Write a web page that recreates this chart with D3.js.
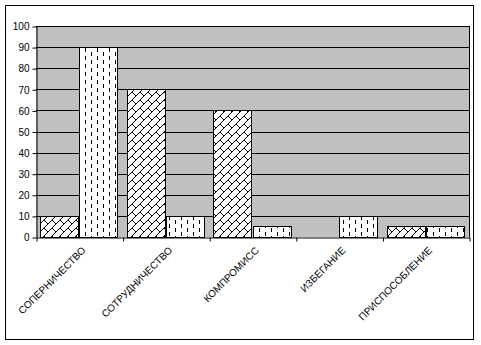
<!DOCTYPE html>
<html>
<head>
<meta charset="utf-8">
<script src="https://cdn.jsdelivr.net/npm/d3@7"></script>
<style>
  body { margin: 0; background: #fff; }
  text { font-family: "Liberation Sans", Arial, sans-serif; }
</style>
</head>
<body>
<svg id="chart"></svg>
<script>
var categories = ['СОПЕРНИЧЕСТВО', 'СОТРУДНИЧЕСТВО', 'КОМПРОМИСС', 'ИЗБЕГАНИЕ', 'ПРИСПОСОБЛЕНИЕ'];
var seriesNames = ['s1', 's2'];
var series1 = [10, 70, 60, 0, 5];
var series2 = [90, 10, 5, 10, 5];
var yTicks = [0, 10, 20, 30, 40, 50, 60, 70, 80, 90, 100];

// pixel bitmaps for the fill patterns
var brickRows = [
  '.......X',
  '......X.',
  '.....X..',
  '....X...',
  '...XX...',
  '..X..X..',
  '.X....X.',
  'X......X'
];
var dashRows = [
  '.X..........',
  '.X..........',
  '.X..........',
  '.X..........',
  '.......X....',
  '.......X....',
  '.......X....',
  '.......X....'
];

var width = 481, height = 345;
var plotL = 36, plotR = 469, plotT = 26, plotB = 237;

var svg = d3.select('#chart')
  .attr('width', width)
  .attr('height', height);

var defs = svg.append('defs');
function addPattern(id, rows){
  var p = defs.append('pattern')
    .attr('id', id)
    .attr('patternUnits', 'userSpaceOnUse')
    .attr('width', rows[0].length)
    .attr('height', rows.length);
  p.append('rect')
    .attr('width', rows[0].length)
    .attr('height', rows.length)
    .attr('fill', '#fff');
  rows.forEach(function(r, j){
    for (var i = 0; i < r.length; i++){
      if (r[i] === 'X') p.append('rect').attr('x', i).attr('y', j).attr('width', 1).attr('height', 1).attr('fill', '#000');
    }
  });
}
addPattern('brick', brickRows);
addPattern('dash', dashRows);

// chart area border
svg.append('rect')
  .attr('x', 5.5).attr('y', 5.5)
  .attr('width', 468).attr('height', 334)
  .attr('fill', '#fff')
  .attr('stroke', '#000');

var x0 = d3.scaleBand()
  .domain(categories)
  .range([plotL, plotR]);
var x1 = d3.scaleBand()
  .domain(seriesNames)
  .range([0, x0.bandwidth()])
  .paddingOuter(0.11);
var y = d3.scaleLinear()
  .domain([0, 100])
  .range([plotB, plotT]);

// plot area
svg.append('rect')
  .attr('x', plotL).attr('y', plotT)
  .attr('width', plotR - plotL).attr('height', plotB - plotT)
  .attr('fill', '#c0c0c0');

svg.append('g')
  .selectAll('line')
  .data(yTicks.filter(d => d > 0))
  .enter()
  .append('line')
    .attr('x1', plotL).attr('x2', plotR)
    .attr('y1', d => Math.round(y(d)) + 0.5)
    .attr('y2', d => Math.round(y(d)) + 0.5)
    .attr('stroke', '#000');

svg.append('line')
  .attr('x1', plotR + 0.5).attr('x2', plotR + 0.5)
  .attr('y1', plotT).attr('y2', plotB)
  .attr('stroke', '#000');

var data = [];
categories.forEach(function(c, i){
  data.push({cat: c, s: 's1', v: series1[i]});
  data.push({cat: c, s: 's2', v: series2[i]});
});

svg.append('g')
  .selectAll('rect')
  .data(data.filter(d => d.v > 0))
  .enter()
  .append('rect')
    .attr('x', d => Math.round(x0(d.cat) + x1(d.s)) + 0.5)
    .attr('y', d => Math.round(y(d.v)) + 0.5)
    .attr('width', x1.bandwidth() - 1)
    .attr('height', d => Math.round(y(0)) - Math.round(y(d.v)))
    .attr('fill', d => d.s === 's1' ? 'url(#brick)' : 'url(#dash)')
    .attr('stroke', '#000');

var yAxis = d3.axisLeft(y)
  .tickValues(yTicks)
  .tickSize(4)
  .tickSizeOuter(0)
  .tickPadding(3);
var gy = svg.append('g')
  .attr('transform', 'translate(' + (plotL + 0.5) + ',0.5)')
  .call(yAxis);
gy.selectAll('text').style('font-size', '10px').attr('fill', '#000');

var xAxis = d3.axisBottom(d3.scaleLinear().domain([0, 5]).range([plotL, plotR]))
  .ticks(5)
  .tickSize(4)
  .tickSizeOuter(0)
  .tickFormat('');
svg.append('g')
  .attr('transform', 'translate(0.5,' + (Math.round(y(0)) + 0.5) + ')')
  .call(xAxis);

svg.append('g')
  .selectAll('text')
  .data(categories)
  .enter()
  .append('text')
    .attr('transform', d => 'translate(' + (x0(d) + x0.bandwidth() / 2 + 2) + ',246) rotate(-45)')
    .attr('dy', '0.71em')
    .style('text-anchor', 'end')
    .style('font-size', '10px')
    .attr('fill', '#000')
    .text(d => d);
</script>
</body>
</html>
